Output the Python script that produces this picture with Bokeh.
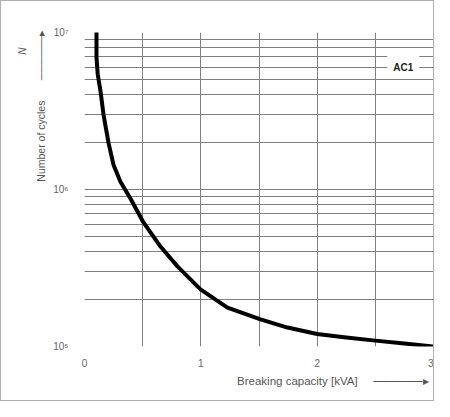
from bokeh.plotting import figure
from bokeh.models import FixedTicker, Label, Title
from bokeh.embed import file_html
from bokeh.resources import INLINE

# ---- data ----
breaking_capacity_kva = [0.103, 0.103, 0.114, 0.138, 0.163, 0.206, 0.249, 0.309, 0.395, 0.507,
                         0.653, 0.799, 0.997, 1.229, 1.513, 1.745, 2.0, 2.25, 2.5, 2.75, 3.0]
number_of_cycles = [1.0e7, 6.93e6, 5.40e6, 4.21e6, 3.01e6, 1.99e6, 1.44e6, 1.12e6, 8.77e5, 6.17e5,
                    4.33e5, 3.24e5, 2.31e5, 1.77e5, 1.49e5, 1.32e5, 1.20e5, 1.14e5, 1.09e5, 1.045e5, 1.0e5]

x_ticks = [0, 1, 2, 3]
x_minor = [0.5, 1.5, 2.5]
y_ticks = [1e5, 1e6, 1e7]
y_tick_labels = ["10\u2075", "10\u2076", "10\u2077"]
y_minor = [m * d for d in (1e5, 1e6) for m in range(2, 10)]

curve_label = "AC1"
x_title = "Breaking capacity [kVA]"
y_title = "Number of cycles"
y_symbol = "N"
arrow_text = "\u2500" * 6 + "\u25b8"

FONT = "Liberation Sans"

p = figure(width=434, height=401, y_axis_type="log",
           x_range=(0, 3), y_range=(1e5, 1e7),
           output_backend="svg", toolbar_location=None,
           min_border_left=83, min_border_right=2,
           min_border_top=31, min_border_bottom=56)
p.styles = {"border": "1px solid #b0b0b0"}
p.outline_line_color = None
p.background_fill_color = "white"
p.border_fill_color = "white"

p.xaxis.ticker = FixedTicker(ticks=x_ticks, minor_ticks=x_minor)
p.yaxis.ticker = FixedTicker(ticks=y_ticks, minor_ticks=y_minor)
p.yaxis.major_label_overrides = {t: s for t, s in zip(y_ticks, y_tick_labels)}

for ax in (p.xaxis, p.yaxis):
    ax.axis_line_color = None
    ax.major_tick_line_color = None
    ax.minor_tick_line_color = None
    ax.major_label_text_font = FONT
    ax.major_label_text_font_size = "10px"
    ax.major_label_text_color = "#666666"
p.xaxis.major_label_standoff = 6
p.yaxis.major_label_standoff = 10

for g in (p.xgrid, p.ygrid):
    g.grid_line_color = "#808080"
    g.grid_line_alpha = 1.0
    g.grid_line_width = 1
    g.minor_grid_line_color = "#808080"
    g.minor_grid_line_alpha = 1.0
    g.minor_grid_line_width = 1

p.line(breaking_capacity_kva, number_of_cycles, line_color="black", line_width=4,
       line_join="round", line_cap="round")

# AC1 label with white background
p.add_layout(Label(x=2.74, y=6.0e6, text=curve_label, text_font=FONT, text_font_size="10px",
                   text_font_style="bold", text_color="#222222", text_align="center",
                   text_baseline="middle", background_fill_color="white",
                   border_line_color=None, padding=6))

# Y title with arrow, then the symbol further left
p.add_layout(Title(text=y_title + "\u00a0" * 7 + arrow_text, align="right", offset=-3,
                   text_font=FONT, text_font_size="10.5px", text_font_style="normal",
                   text_color="#555555", standoff=8), "left")
p.add_layout(Title(text=y_symbol, align="right", offset=15, text_font=FONT,
                   text_font_size="10px", text_font_style="italic", text_color="#555555",
                   standoff=1), "left")

# X title with arrow
p.add_layout(Title(text=x_title + "\u00a0" * 5 + arrow_text, align="right", offset=5,
                   text_font=FONT, text_font_size="11.5px", text_font_style="normal",
                   text_color="#555555", standoff=6), "below")

open("out.html", "w").write(file_html(p, INLINE))
